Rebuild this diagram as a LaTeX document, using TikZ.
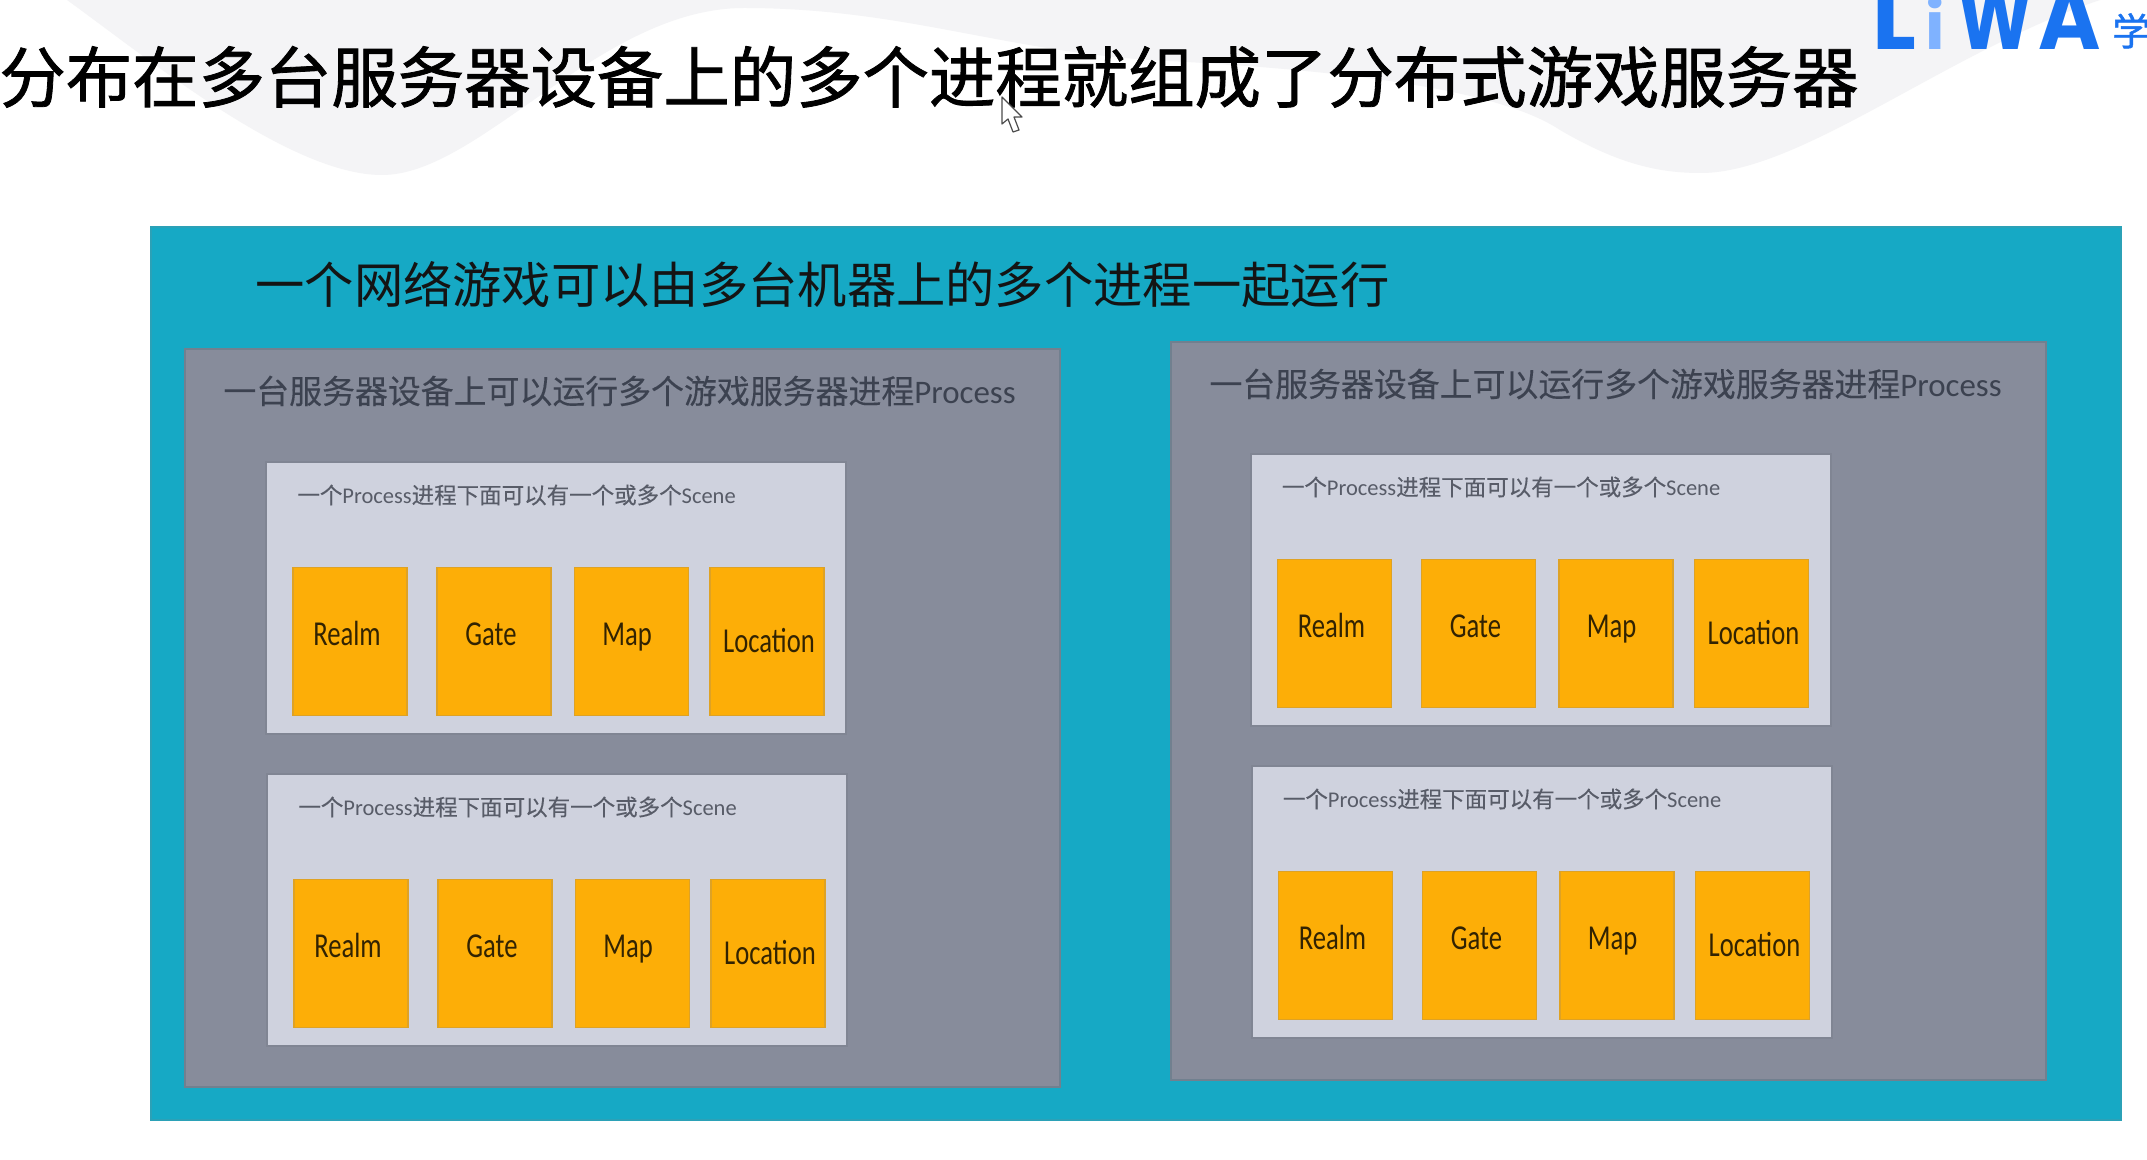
\documentclass[tikz,border=0pt]{standalone}
\usepackage{fontspec}
\setmainfont{Carlito}
\newfontfamily\cjk{Noto Sans CJK SC}
\newfontfamily\cjkt[FakeBold=1.2]{Noto Sans CJK SC}
\newfontfamily\cjkl[FakeBold=0.2]{Noto Sans CJK SC}
\newfontfamily\narrowf[FakeStretch=0.76]{Carlito}
\newfontfamily\logof{Poppins}[BoldFont={Poppins Bold}]
\definecolor{tealbg}{HTML}{16A9C5}
\definecolor{grayb}{HTML}{878C9B}
\definecolor{lightb}{HTML}{CFD2DE}
\definecolor{orangeb}{HTML}{FDAE07}
\definecolor{swoosh}{HTML}{F4F4F6}
\definecolor{logob}{HTML}{1A73F0}
\definecolor{logol}{HTML}{7FB2FF}
\definecolor{headd}{HTML}{3C4250}
\definecolor{heads}{HTML}{585C68}
\tikzset{
  x=0.5pt,y=-0.5pt,
  pane/.style={draw,line width=1pt,inner sep=0pt,outer sep=0pt,anchor=north west},
  tealpane/.style={pane,fill=tealbg,draw=tealbg!80!gray,minimum width=985pt,minimum height=446.5pt},
  graypane/.style={pane,fill=grayb,draw=grayb!92!tealbg!90!black,minimum width=437.5pt,minimum height=369pt},
  lightpane/.style={pane,fill=lightb,draw=grayb!95!black,minimum width=290pt,minimum height=136pt},
  card/.style={pane,fill=orangeb,draw=orangeb!75!gray,line width=0.7pt,minimum width=57pt,minimum height=74pt},
  hdgray/.style={inner sep=0pt,anchor=west,text=headd,font=\fontsize{16.45}{18}\selectfont},
  hdlight/.style={inner sep=0pt,anchor=west,text=heads,font=\fontsize{11.25}{13}\selectfont},
  cardlbl/.style={inner sep=0pt,text=black!80!orangeb,font=\narrowf\fontsize{17.5}{19}\selectfont},
  logoletter/.style={inner sep=0pt,anchor=base west,text=logob,transform shape,font=\logof\bfseries\fontsize{46}{46}\selectfont},
}
\newcommand{\procbox}[3]{%
  \node[lightpane] (#1) at (#2,#3) {};
  \node[hdlight] (#1h) at (#2+31,#3+33) {{\cjkl 一个}Process{\cjkl 进程下面可以有一个或多个}Scene};
  \node[card] (#1a) at (#2+27,#3+105.5) {};
  \node[card] (#1b) at (#2+171,#3+105.5) {};
  \node[card] (#1c) at (#2+308.5,#3+105.5) {};
  \node[card] (#1d) at (#2+444,#3+105.5) {};
  \node[cardlbl] (#1al) at (#2+81,#3+171) {Realm};
  \node[cardlbl] (#1bl) at (#2+225,#3+172) {Gate};
  \node[cardlbl] (#1cl) at (#2+361,#3+175) {Map};
  \node[cardlbl] (#1dl) at (#2+503,#3+179) {Location};
}
\begin{document}
\begin{tikzpicture}
\path[use as bounding box] (0,0) rectangle (2147,1160);
\clip (0,0) rectangle (2147,1160);
\fill[white] (0,0) rectangle (2147,1160);
% background swoosh
\fill[swoosh] (67,0) .. controls (150,60) and (290,175) .. (382,175)
  .. controls (480,175) and (600,8) .. (744,8)
  .. controls (900,8) and (1000,50) .. (1150,60)
  .. controls (1350,70) and (1500,90) .. (1560,130)
  .. controls (1620,165) and (1660,173) .. (1701,173)
  .. controls (1800,173) and (1950,50) .. (2100,0) -- cycle;
% logo
\node[logoletter] (logoL) at (1872,50) {L};
\node[logoletter,text=logol,font=\logof\bfseries\fontsize{33}{33}\selectfont] (logoi) at (1925,50) {i};
\node[logoletter,xscale=0.78] (logoW) at (1957,50) {W};
\node[logoletter,xscale=0.92] (logoA) at (2038,50) {A};
\node[inner sep=0pt,anchor=base west,text=logob,font=\cjkt\fontsize{19}{19}\selectfont] (logoz) at (2112,45.5) {学};
% title
\node[inner sep=0pt,anchor=west,text=black,font=\cjkt\fontsize{33.2}{36}\selectfont] (title) at (-1,77) {分布在多台服务器设备上的多个进程就组成了分布式游戏服务器};
% panels
\node[tealpane] (game) at (151,227) {};
\node[inner sep=0pt,anchor=west,text=black!92,font=\cjk\fontsize{24.65}{27}\selectfont] (gamet) at (255,285) {一个网络游戏可以由多台机器上的多个进程一起运行};
\node[graypane] (hostl) at (185,349) {};
\node[hdgray] (hostlh) at (223,391) {{\cjkl 一台服务器设备上可以运行多个游戏服务器进程}Process};
\node[graypane] (hostr) at (1170.5,342) {};
\node[hdgray] (hostrh) at (1209,384) {{\cjkl 一台服务器设备上可以运行多个游戏服务器进程}Process};
\procbox{pa}{266}{462}
\procbox{pb}{267}{774}
\procbox{pc}{1250.5}{454}
\procbox{pd}{1251.5}{766}
% pointer
\draw[fill=white,draw=black!70,line width=0.6pt,line join=round]
  (1002,97) -- (1002,124) -- (1008,119) -- (1013,132) -- (1019,130) -- (1014,117) -- (1022,117) -- cycle;
\end{tikzpicture}
\end{document}
